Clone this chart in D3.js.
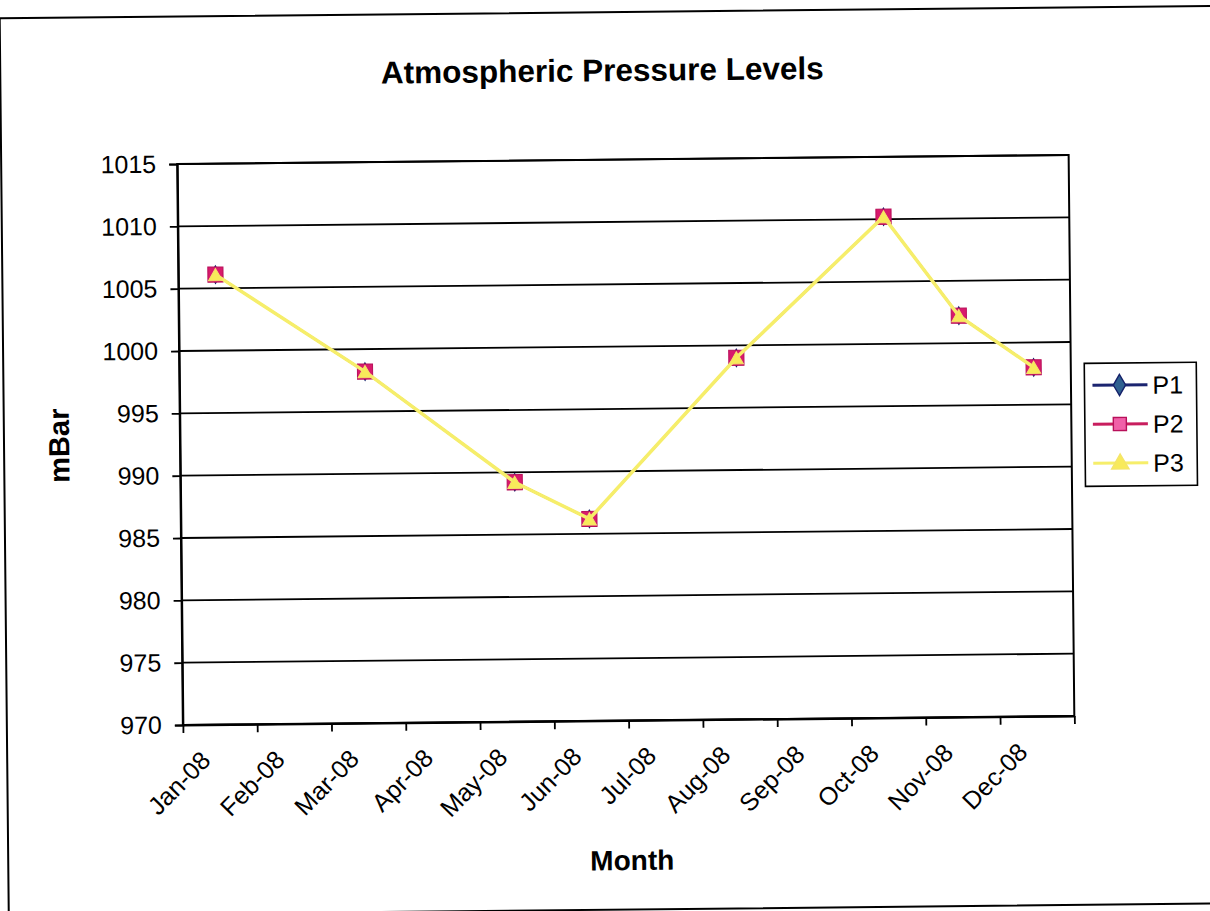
<!DOCTYPE html>
<html>
<head>
<meta charset="utf-8">
<title>Atmospheric Pressure Levels</title>
<script src="https://cdn.jsdelivr.net/npm/d3@7"></script>
<style>
  html, body { margin: 0; padding: 0; background: #ffffff; }
  svg { display: block; }
  text { font-family: "Liberation Sans", Arial, sans-serif; fill: #000; }
</style>
</head>
<body>
<script>
// Month categories on the date axis (one tick at the start of each month)
const monthLabels = ["Jan-08", "Feb-08", "Mar-08", "Apr-08", "May-08", "Jun-08",
                     "Jul-08", "Aug-08", "Sep-08", "Oct-08", "Nov-08", "Dec-08"];
// Months that have a reading
const readingMonths = ["Jan-08", "Mar-08", "May-08", "Jun-08", "Aug-08", "Oct-08", "Nov-08", "Dec-08"];
// Pressure readings (mBar) for each station series
const p1Values = [1006.1, 998.2, 989.2, 986.2, 999.0, 1010.2, 1002.2, 998.0];
const p2Values = [1006.1, 998.2, 989.2, 986.2, 999.0, 1010.2, 1002.2, 998.0];
const p3Values = [1006.1, 998.2, 989.2, 986.2, 999.0, 1010.2, 1002.2, 998.0];
const seriesNames = ["P1", "P2", "P3"];
// Value axis ticks
const yTicks = [970, 975, 980, 985, 990, 995, 1000, 1005, 1010, 1015];

const W = 1210, H = 911;
const plot = { left: 180, right: 1071.5, top: 159.5, bottom: 720.5 };

const svg = d3.select("body").append("svg")
  .attr("width", W).attr("height", H);

// The whole sheet sits at a slight tilt
const root = svg.append("g").attr("transform", "rotate(-0.58 626 440)");

// Chart area frame
root.append("rect")
  .attr("x", 4).attr("y", 12)
  .attr("width", 1230).attr("height", 897.5)
  .attr("fill", "#fff").attr("stroke", "#000").attr("stroke-width", 2);

const x = d3.scaleLinear().domain([0, 12]).range([plot.left, plot.right]);
const y = d3.scaleLinear().domain([970, 1015]).range([plot.bottom, plot.top]);

// Horizontal gridlines
root.append("g").selectAll("line").data(yTicks).join("line")
  .attr("x1", plot.left).attr("x2", plot.right)
  .attr("y1", d => y(d)).attr("y2", d => y(d))
  .attr("stroke", "#000").attr("stroke-width", 1.8);

// Plot area border
root.append("rect")
  .attr("x", plot.left).attr("y", plot.top)
  .attr("width", plot.right - plot.left).attr("height", plot.bottom - plot.top)
  .attr("fill", "none").attr("stroke", "#000").attr("stroke-width", 2);

// Y axis
const yAxis = root.append("g")
  .attr("transform", `translate(${plot.left},0)`)
  .call(d3.axisLeft(y).tickValues(yTicks).tickSize(8).tickPadding(13).tickFormat(d3.format("d")));
yAxis.select(".domain").attr("stroke", "#000").attr("stroke-width", 2);
yAxis.selectAll(".tick line").attr("stroke", "#000").attr("stroke-width", 1.8);
yAxis.selectAll(".tick text")
  .style("font-family", "'Liberation Sans', Arial, sans-serif")
  .style("font-size", "25px").attr("fill", "#000");

// X axis (date axis, ticks at month boundaries)
const xAxis = root.append("g")
  .attr("transform", `translate(0,${plot.bottom})`)
  .call(d3.axisBottom(x)
    .tickValues(d3.range(0, monthLabels.length + 1))
    .tickSize(8).tickSizeOuter(0)
    .tickFormat(i => monthLabels[i] || ""));
xAxis.select(".domain").attr("stroke", "#000").attr("stroke-width", 2);
xAxis.selectAll(".tick line").attr("stroke", "#000").attr("stroke-width", 1.8);
xAxis.selectAll(".tick text")
  .style("font-family", "'Liberation Sans', Arial, sans-serif")
  .style("font-size", "25px").attr("fill", "#000")
  .attr("text-anchor", "end")
  .attr("x", 0).attr("y", 0).attr("dy", "0.35em")
  .attr("transform", "translate(22,31) rotate(-45)");

// Titles
root.append("text")
  .attr("x", 606).attr("y", 81)
  .attr("text-anchor", "middle")
  .style("font-size", "31.5px").style("font-weight", "bold")
  .text("Atmospheric Pressure Levels");

root.append("text")
  .attr("x", 628).attr("y", 870)
  .attr("text-anchor", "middle")
  .style("font-size", "28px").style("font-weight", "bold")
  .text("Month");

root.append("text")
  .attr("transform", "translate(69,440) rotate(-90)")
  .attr("text-anchor", "middle")
  .style("font-size", "29px").style("font-weight", "bold")
  .text("mBar");

// Series styling (P3 is drawn last and sits on top)
const styles = [
  { line: "#1b2470", width: 2, fill: "#3a6a9a", stroke: "#14206a", symbol: d3.symbolDiamond, size: 90 },
  { line: "#c81e5e", width: 2, fill: "#d81a6c", stroke: "#b8105a", symbol: d3.symbolSquare, size: 230 },
  { line: "#f6ee6a", width: 3.5, fill: "#f8ea5a", stroke: "#f4e46a", symbol: d3.symbolTriangle, size: 85 }
];
const seriesValues = [p1Values, p2Values, p3Values];

const line = d3.line()
  .x(d => x(monthLabels.indexOf(d.month) + 0.5))
  .y(d => y(d.value));

seriesValues.forEach((vals, s) => {
  const pts = readingMonths.map((m, i) => ({ month: m, value: vals[i] }));
  const st = styles[s];
  root.append("path")
    .datum(pts)
    .attr("d", line)
    .attr("fill", "none")
    .attr("stroke", st.line)
    .attr("stroke-width", st.width);
  root.append("g").selectAll("path").data(pts).join("path")
    .attr("transform", d => `translate(${x(monthLabels.indexOf(d.month) + 0.5)},${y(d.value) + (s === 2 ? 2 : 0)})`)
    .attr("d", d3.symbol().type(st.symbol).size(st.size))
    .attr("fill", st.fill)
    .attr("stroke", st.stroke)
    .attr("stroke-width", 1);
});

// Legend
const legend = root.append("g").attr("transform", "translate(1085,368)");
legend.append("rect")
  .attr("width", 112).attr("height", 123)
  .attr("fill", "#fff").attr("stroke", "#000").attr("stroke-width", 1.6);

const legendFills = ["#2f6090", "#f060a8", "#f8ea5a"];
const legendSizes = [130, 170, 130];
seriesNames.forEach((name, i) => {
  const st = styles[i];
  const gy = 22 + i * 39;
  const item = legend.append("g").attr("transform", `translate(0,${gy})`);
  item.append("line")
    .attr("x1", 8).attr("x2", 63)
    .attr("stroke", st.line).attr("stroke-width", 3);
  item.append("path")
    .attr("transform", `translate(35,${i === 2 ? 1 : 0})`)
    .attr("d", d3.symbol().type(st.symbol).size(legendSizes[i]))
    .attr("fill", legendFills[i])
    .attr("stroke", i === 2 ? "#f4e46a" : st.stroke)
    .attr("stroke-width", 1.4);
  item.append("text")
    .attr("x", 68).attr("y", 0).attr("dy", "0.36em")
    .style("font-size", "25px")
    .text(name);
});
</script>
</body>
</html>
